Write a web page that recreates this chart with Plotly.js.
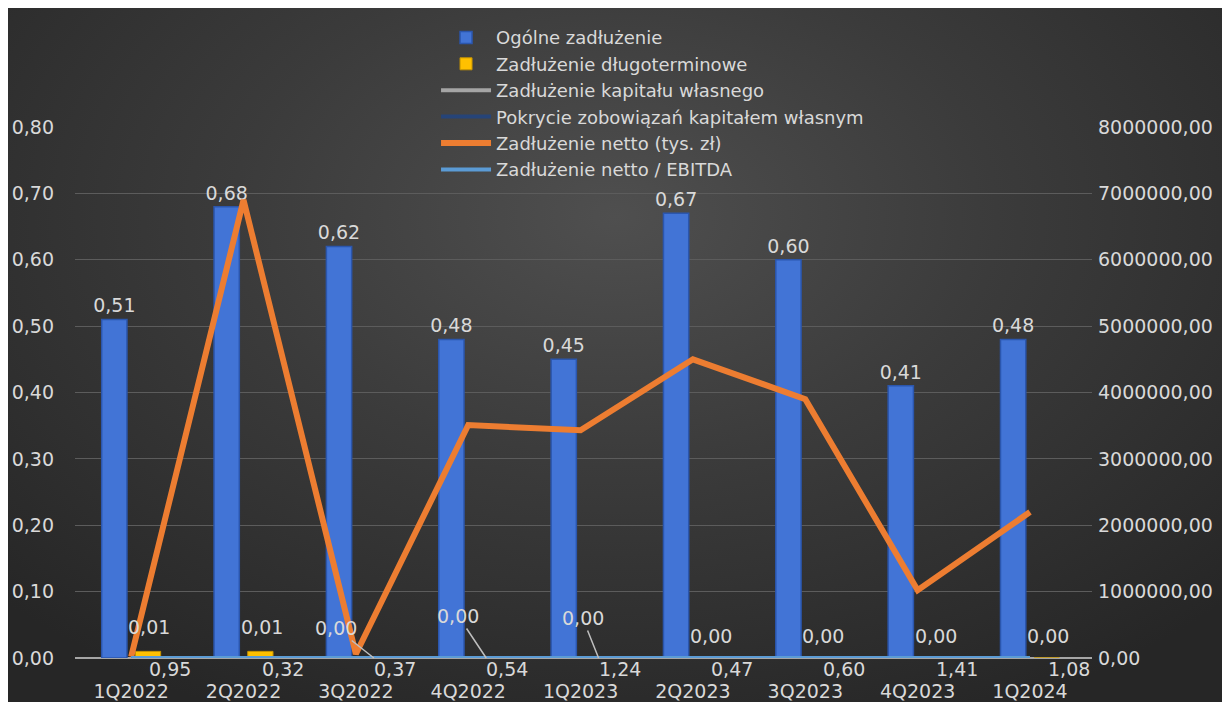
<!DOCTYPE html>
<html>
<head>
<meta charset="utf-8">
<script src="https://cdn.plot.ly/plotly-3.0.1.min.js"></script>
<style>
  html, body { margin: 0; padding: 0; background: #ffffff; }
  #wrap { position: absolute; left: 8px; top: 8px; width: 1214px; height: 694px;
          background: radial-gradient(ellipse 70% 80% at 50% 30%, #4f4f4f 0%, #3b3b3b 45%, #262626 100%); }
  #chart { width: 1214px; height: 694px; }
</style>
</head>
<body>
<div id="wrap"><div id="chart"></div></div>
<script>
const categories = ['1Q2022','2Q2022','3Q2022','4Q2022','1Q2023','2Q2023','3Q2023','4Q2023','1Q2024'];
const ogolne = [0.51, 0.68, 0.62, 0.48, 0.45, 0.67, 0.60, 0.41, 0.48];
const dlugoterminowe = [0.01, 0.01, 0.00, 0.00, 0.00, 0.00, 0.00, 0.00, 0.00];
const kapitalWlasny = [0, 0, 0, 0, 0, 0, 0, 0, 0];
const pokrycie = [0, 0, 0, 0, 0, 0, 0, 0, 0];
const netto = [20000, 6900000, 60000, 3510000, 3430000, 4500000, 3900000, 1020000, 2200000];
const nettoEbitda = [0.95, 0.32, 0.37, 0.54, 1.24, 0.47, 0.60, 1.41, 1.08];

const fmt = v => v.toFixed(2).replace('.', ',');
const FONT = 'DejaVu Sans, Verdana, sans-serif';
const TXT = '#d9d9d9';
const FS = 19;

const traces = [
  { type: 'bar', name: 'Ogólne zadłużenie', x: categories, y: ogolne,
    marker: { color: '#4274d6', line: { color: '#2b56ad', width: 1.5 } },
    text: ogolne.map(fmt), textposition: 'outside', cliponaxis: false, constraintext: 'none',
    textfont: { color: TXT, size: FS, family: FONT } },
  { type: 'bar', name: 'Zadłużenie długoterminowe', x: categories, y: dlugoterminowe,
    marker: { color: '#ffc000', line: { color: '#c79400', width: 1 } } },
  { type: 'scatter', mode: 'lines', name: 'Zadłużenie kapitału własnego', x: categories, y: kapitalWlasny,
    yaxis: 'y2', line: { color: '#a5a5a5', width: 4 } },
  { type: 'scatter', mode: 'lines', name: 'Pokrycie zobowiązań kapitałem własnym', x: categories, y: pokrycie,
    yaxis: 'y2', line: { color: '#264478', width: 4 } },
  { type: 'scatter', mode: 'lines', name: 'Zadłużenie netto (tys. zł)', x: categories, y: netto,
    yaxis: 'y2', line: { color: '#ed7d31', width: 6 } },
  { type: 'scatter', mode: 'lines', name: 'Zadłużenie netto / EBITDA', x: categories, y: nettoEbitda,
    yaxis: 'y2', line: { color: '#5b9bd5', width: 4 } }
];

// labels of the long-term debt series (with leader lines for the zero ones)
const labelOffsets = [[0, -24, false], [0, -24, false], [-38, -30, true], [-28, -42, true], [-16, -40, true],
                      [12, -22, false], [12, -22, false], [12, -22, false], [10, -22, false]];
const annotations = dlugoterminowe.map((v, i) => ({
  x: categories[i], y: v, xref: 'x', yref: 'y', xshift: 18,
  text: fmt(v), showarrow: labelOffsets[i][2], arrowhead: 0, arrowcolor: '#bfbfbf', arrowwidth: 1.5,
  ax: labelOffsets[i][0], ay: labelOffsets[i][1],
  yshift: labelOffsets[i][2] ? 0 : -labelOffsets[i][1],
  font: { color: TXT, size: FS, family: FONT }
}));
// labels of the net debt / EBITDA series
nettoEbitda.forEach((v, i) => {
  annotations.push({
    x: categories[i], y: v, xref: 'x', yref: 'y2', xanchor: 'left', yanchor: 'middle',
    xshift: 16, yshift: -11, showarrow: false, text: fmt(v),
    font: { color: TXT, size: FS, family: FONT }
  });
});

const layout = {
  width: 1214, height: 694,
  margin: { l: 67, r: 130, t: 119, b: 44, autoexpand: false },
  paper_bgcolor: 'rgba(0,0,0,0)', plot_bgcolor: 'rgba(0,0,0,0)',
  font: { family: FONT, color: TXT, size: FS },
  barmode: 'group', bargap: 0.4, bargroupgap: 0.25,
  showlegend: true,
  legend: { x: 0.355, y: 1.203, xanchor: 'left', yanchor: 'top', bgcolor: 'rgba(0,0,0,0)',
            font: { size: 18, color: TXT, family: FONT }, itemwidth: 50, tracegroupgap: 0 },
  xaxis: { type: 'category', showgrid: false, zeroline: false, showline: false, automargin: false,
           tickfont: { size: FS, color: TXT }, ticks: '', ticklabelstandoff: 20 },
  yaxis: { range: [0, 0.8], dtick: 0.1, tickformat: '.2f', showgrid: true, gridcolor: '#5c5c5c', gridwidth: 1,
           zeroline: true, zerolinecolor: '#a6a6a6', zerolinewidth: 2, showline: false, automargin: false,
           tickfont: { size: FS, color: TXT }, ticklabelstandoff: 20 },
  yaxis2: { overlaying: 'y', side: 'right', range: [0, 8000000], dtick: 1000000, tickformat: '.2f',
            showgrid: false, zeroline: false, showline: false, automargin: false,
            tickfont: { size: FS, color: TXT }, ticklabelstandoff: 5 },
  separators: ', ',
  annotations: annotations
};

Plotly.newPlot('chart', traces, layout, { displayModeBar: false, staticPlot: true });
</script>
</body>
</html>
